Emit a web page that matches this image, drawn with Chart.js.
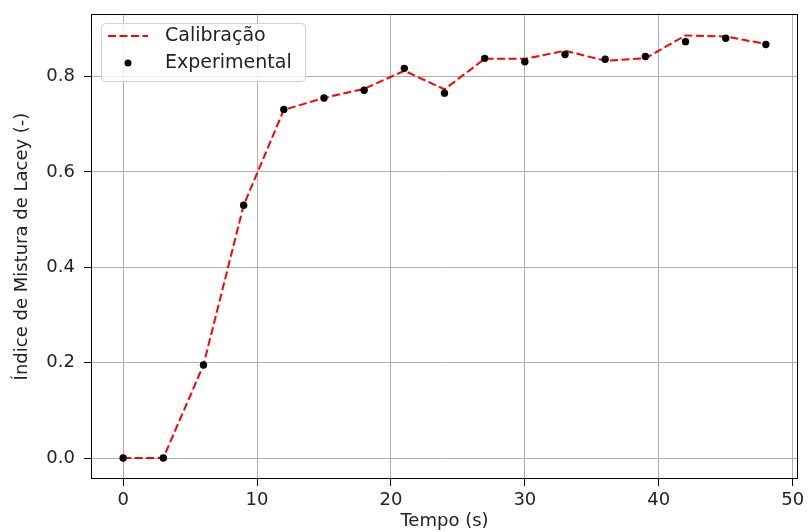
<!DOCTYPE html>
<html>
<head>
<meta charset="utf-8">
<script src="https://cdn.jsdelivr.net/npm/chart.js@4/dist/chart.umd.min.js"></script>
<style>
  html, body { margin: 0; padding: 0; background: #fff; }
  #wrap { width: 808px; height: 532px; }
</style>
</head>
<body>
<div id="wrap"><canvas id="chart" width="808" height="532"></canvas></div>
<script>
    const tempo = [0, 3, 6, 9, 12, 15, 18, 21, 24, 27, 30, 33, 36, 39, 42, 45, 48];
    const calibracao = [0, 0, 0.195, 0.53, 0.73, 0.755, 0.774, 0.812, 0.773, 0.837, 0.837, 0.854, 0.833, 0.838, 0.886, 0.884, 0.868];
    const experimental = [0, 0, 0.195, 0.53, 0.731, 0.755, 0.771, 0.817, 0.765, 0.838, 0.831, 0.846, 0.836, 0.842, 0.873, 0.880, 0.867];
    const xTicks = [0, 10, 20, 30, 40, 50];
    const yTicks = [0, 0.2, 0.4, 0.6, 0.8];

    const FONT = 'DejaVu Sans';
    const FONT_SIZE = 18;
    const LEGEND_SIZE = 19;

    // frame on all four sides + matplotlib-like legend box
    const framePlugin = {
        id: 'frame',
        afterDraw(chart) {
            const {ctx, chartArea: a} = chart;
            ctx.save();
            ctx.strokeStyle = '#000';
            ctx.lineWidth = 1;
            ctx.strokeRect(Math.round(a.left) + 0.5, Math.round(a.top) + 0.5,
                Math.round(a.right - a.left) - 1, Math.round(a.bottom - a.top) - 1);

            // legend
            const x = Math.round(a.left) + 10, y = Math.round(a.top) + 9, w = 204, h = 58;
            ctx.beginPath();
            ctx.roundRect(x + 0.5, y + 0.5, w, h, 4);
            ctx.fillStyle = 'rgba(255,255,255,0.8)';
            ctx.fill();
            ctx.strokeStyle = '#d0d0d0';
            ctx.stroke();

            const ds = chart.data.datasets;
            ctx.font = LEGEND_SIZE + 'px "' + FONT + '"';
            ctx.textBaseline = 'middle';
            ctx.fillStyle = '#222';

            // Calibração
            ctx.beginPath();
            ctx.setLineDash([8, 3.5]);
            ctx.strokeStyle = ds[0].borderColor;
            ctx.lineWidth = 2;
            ctx.moveTo(x + 7, y + 13);
            ctx.lineTo(x + 47, y + 13);
            ctx.stroke();
            ctx.setLineDash([]);
            ctx.fillText(ds[0].label, x + 64, y + 13);

            // Experimental
            ctx.beginPath();
            ctx.arc(x + 27, y + 40, 3.5, 0, Math.PI * 2);
            ctx.fillStyle = ds[1].backgroundColor;
            ctx.fill();
            ctx.fillStyle = '#222';
            ctx.fillText(ds[1].label, x + 64, y + 40);
            ctx.restore();
        }
    };

    new Chart(document.getElementById('chart'), {
        data: {
            datasets: [{
                type: 'line',
                label: 'Calibração',
                data: tempo.map((t, i) => ({x: t, y: calibracao[i]})),
                borderColor: '#ff0000',
                borderWidth: 2,
                borderDash: [8, 3.5],
                pointRadius: 0,
                fill: false,
                tension: 0,
                order: 1
            }, {
                type: 'scatter',
                label: 'Experimental',
                data: tempo.map((t, i) => ({x: t, y: experimental[i]})),
                backgroundColor: '#000',
                borderColor: '#000',
                pointRadius: 3.7,
                borderWidth: 0,
                order: 0
            }]
        },
        options: {
            responsive: false,
            animation: false,
            devicePixelRatio: 1,
            layout: {
                padding: {left: 0, top: 14, right: 10, bottom: 0}
            },
            plugins: {
                legend: {display: false},
                tooltip: {enabled: false}
            },
            scales: {
                x: {
                    type: 'linear',
                    min: -2.4,
                    max: 50.4,
                    afterBuildTicks(scale) {
                        scale.ticks = xTicks.map(v => ({value: v}));
                    },
                    afterFit(scale) {
                        scale.height = 53;
                        scale.paddingLeft = 0;
                        scale.paddingRight = 0;
                    },
                    ticks: {
                        color: '#222',
                        padding: 4,
                        maxRotation: 0,
                        font: {family: FONT, size: FONT_SIZE},
                        callback: v => String(v)
                    },
                    grid: {
                        color: '#b0b0b0',
                        lineWidth: 1,
                        tickLength: 7,
                        tickColor: '#000'
                    },
                    border: {display: false},
                    title: {
                        display: true,
                        text: 'Tempo (s)',
                        color: '#222',
                        font: {family: FONT, size: FONT_SIZE},
                        padding: {top: 0, bottom: 0}
                    }
                },
                y: {
                    type: 'linear',
                    min: -0.044,
                    max: 0.931,
                    afterBuildTicks(scale) {
                        scale.ticks = yTicks.map(v => ({value: v}));
                    },
                    afterFit(scale) {
                        scale.width = 91;
                        scale.paddingTop = 0;
                        scale.paddingBottom = 0;
                    },
                    ticks: {
                        color: '#222',
                        padding: 9,
                        font: {family: FONT, size: FONT_SIZE},
                        callback: v => v.toFixed(1)
                    },
                    grid: {
                        color: '#b0b0b0',
                        lineWidth: 1,
                        tickLength: 7,
                        tickColor: '#000'
                    },
                    border: {display: false},
                    title: {
                        display: true,
                        text: 'Índice de Mistura de Lacey (-)',
                        color: '#222',
                        font: {family: FONT, size: FONT_SIZE},
                        padding: {top: 12, bottom: 0}
                    }
                }
            }
        },
        plugins: [framePlugin]
    });
</script>
</body>
</html>
